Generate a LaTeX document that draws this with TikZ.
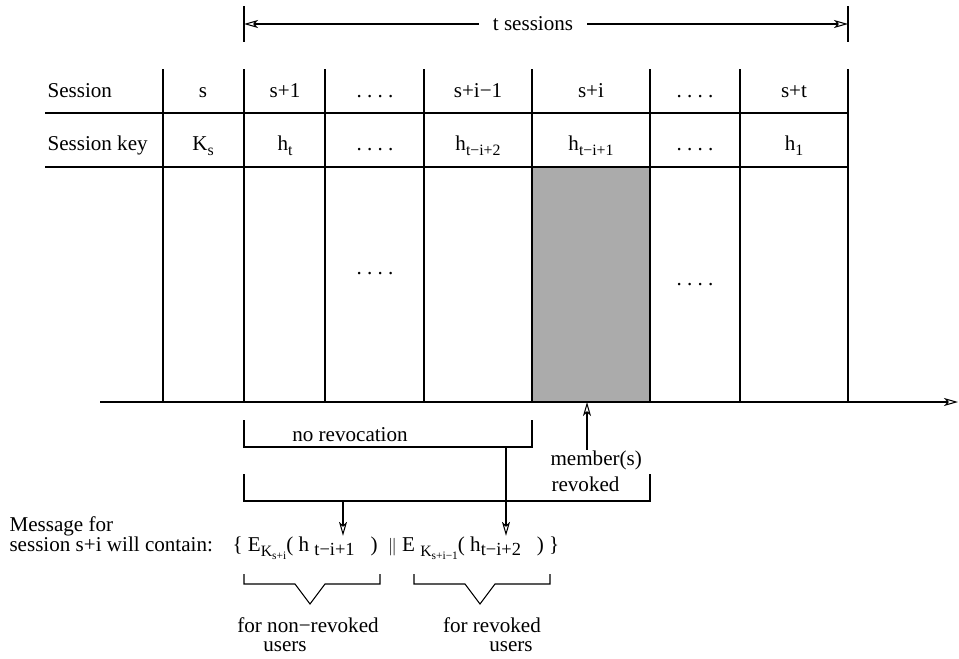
\documentclass[tikz,border=0pt]{standalone}
\usepackage{fontspec}
\setmainfont{Liberation Serif}
\usetikzlibrary{arrows.meta}
\tikzset{
  cell/.style={anchor=base, inner sep=0pt},
  lbl/.style={anchor=base west, inner sep=0pt}
}
\tikzstyle{arrow} = [->, > = {Stealth[open, length=2.8mm, width=1.6mm, inset=0.7mm]}]
\definecolor{revgray}{gray}{0.67}
\def\subtxt#1{\raisebox{-0.55ex}{\fontsize{9}{10}\selectfont #1}}
\def\msgsub#1{\raisebox{-0.5ex}{\fontsize{10.5}{11}\selectfont #1}}
\def\subsubtxt#1{\raisebox{-0.45ex}{\fontsize{6.5}{7}\selectfont #1}}

\begin{document}
\begin{tikzpicture}[x=0.2mm, y=-0.2mm, line width=0.6pt, font=\fontsize{12}{14}\selectfont]
    \useasboundingbox (0,0) rectangle (959,659);
    % t sessions span
    \coordinate (spanL) at (244,24);
    \coordinate (spanR) at (848,24);
    \draw (244,6) -- (244,42);
    \draw (848,6) -- (848,42);
    \node[inner xsep=2.7mm, inner ysep=0pt] (tsess) at (533,24) {t sessions};
    \draw[arrow] (tsess) -- (spanL);
    \draw[arrow] (tsess) -- (spanR);
    % grid
    \fill[revgray] (532,167) rectangle (650,402);
    \draw (45,113) -- (848,113);
    \draw (45,167) -- (848,167);
    \draw (163,69) -- (163,402);
    \draw (244,69) -- (244,402);
    \draw (325,69) -- (325,402);
    \draw (424,69) -- (424,402);
    \draw (532,69) -- (532,402);
    \draw (650,69) -- (650,402);
    \draw (740,69) -- (740,402);
    \draw (848,69) -- (848,402);
    \node[lbl] (sesshdr) at (47,97) {Session};
    \node[lbl] (keyhdr) at (47,150) {Session key};
    \node[cell] (s0) at (203,97) {s};
    \node[cell] (s1) at (285,97) {s+1};
    \node[cell] (s2) at (375,97) {.\ .\ .\ .};
    \node[cell] (s3) at (478,97) {s+i−1};
    \node[cell] (s4) at (591,97) {s+i};
    \node[cell] (s5) at (695,97) {.\ .\ .\ .};
    \node[cell] (s6) at (794,97) {s+t};
    \node[cell] (k0) at (203,150) {K\subtxt{s}};
    \node[cell] (k1) at (285,150) {h\subtxt{t}};
    \node[cell] (k2) at (375,150) {.\ .\ .\ .};
    \node[cell] (k3) at (478,150) {h\subtxt{t−i+2}};
    \node[cell] (k4) at (591,150) {h\subtxt{t−i+1}};
    \node[cell] (k5) at (695,150) {.\ .\ .\ .};
    \node[cell] (k6) at (794,150) {h\subtxt{1}};
    \node[cell] (m2) at (375,274) {.\ .\ .\ .};
    \node[cell] (m5) at (695,285) {.\ .\ .\ .};
    % time axis
    \coordinate (axL) at (100,402);
    \coordinate (axR) at (958,402);
    \draw[arrow] (axL) -- (axR);
    \coordinate (hit) at (587,402);
    \node[lbl] (member) at (550,465) {member(s)};
    \node[lbl] (revk) at (551,491) {revoked};
    \draw[arrow] (member.north -| hit) -- (hit);
    % brackets
    \draw (244,420) -- (244,447) -- (532,447) -- (532,420);
    \node[cell] (norev) at (350,441) {no revocation};
    \draw (244,474) -- (244,501) -- (650,501) -- (650,474);
    \coordinate (tap1) at (343,501);
    \coordinate (tap2) at (506,447);
    % message
    \node[lbl] (msgfor) at (9,531) {Message for};
    \node[lbl] (msgsess) at (9,551) {session s+i will contain:};
    \node[lbl] (msg) at (232,551) {\{\ E\subtxt{K\subsubtxt{s+i}}(\ h\ \msgsub{t−i+1}\ \ \ )\ \ {\normalsize$\|$}\ E\ \subtxt{K\subsubtxt{s+i−1}}(\ h\msgsub{t−i+2}\ \ \ )\ \}};
    \draw[arrow] (tap1) -- (tap1 |- msg.north);
    \draw[arrow] (tap2) -- (tap2 |- msg.north);
    \draw (244,574) -- (244,584) -- (295,584) -- (310,604) -- (325,584) -- (380,584) -- (380,574);
    \draw (414,574) -- (414,584) -- (465,584) -- (480,604) -- (495,584) -- (550,584) -- (550,574);
    \node[cell] (fornon) at (308,632) {for non−revoked};
    \node[cell] (fornonu) at (285,651) {users};
    \node[cell] (forrev) at (492,632) {for revoked};
    \node[cell] (forrevu) at (511,651) {users};
\end{tikzpicture}
\end{document}
